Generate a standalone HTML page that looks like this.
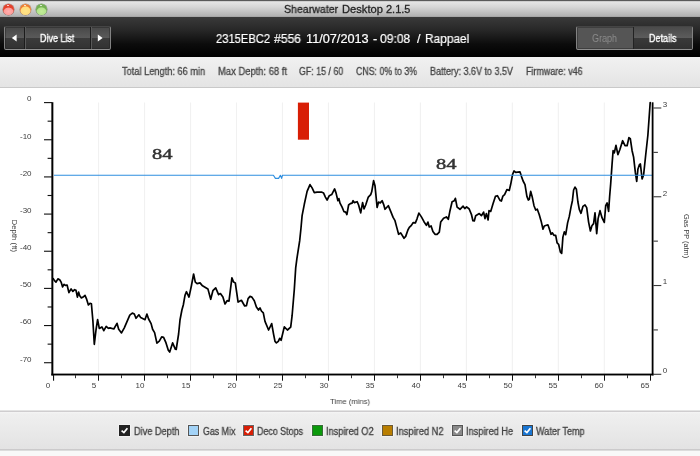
<!DOCTYPE html>
<html><head><meta charset="utf-8"><title>Shearwater Desktop 2.1.5</title>
<style>
html,body{margin:0;padding:0;}
body{width:700px;height:456px;overflow:hidden;position:relative;background:#fff;font-family:"Liberation Sans",sans-serif;}
.t{position:absolute;white-space:nowrap;line-height:1;display:inline-block;transform-origin:0 50%;will-change:transform;}
#titlebar{position:absolute;left:0;top:0;width:700px;height:17px;background:linear-gradient(#5a5a5a 0,#5a5a5a 1px,#e6e6e6 1.6px,#d6d6d6 7px,#b0b0b0 16.4px,#7a7a7a 17px);}
.tl{position:absolute;top:3.8px;width:11px;height:11px;border-radius:50%;box-sizing:border-box;}
.tl i{position:absolute;left:4.6px;top:1.1px;width:1.8px;height:1.6px;border-radius:50%;background:rgba(255,255,255,.85);}
#toolbar{position:absolute;left:0;top:17px;width:700px;height:39.6px;background:linear-gradient(#3a3a3a 0,#272727 33%,#0c0c0c 68%,#000 100%);}
#info{position:absolute;left:0;top:56.6px;width:700px;height:30px;background:linear-gradient(#f1f1f1,#e4e4e4);border-bottom:1.5px solid #c9c9c9;}
#legend{position:absolute;left:0;top:410px;width:700px;height:41px;background:linear-gradient(#e4e4e4 0,#e4e4e4 1px,#cfcdcf 1px,#cfcdcf 2px,#f5f5f5 2px,#efefef 4px,#e3e3e3 39px,#cbcacb 39px,#cbcacb 40px,#dcdcdc 40px,#dcdcdc 41px);}
#bottom{position:absolute;left:0;top:451px;width:700px;height:5px;background:#f8f8f8;}
.btn{position:absolute;box-sizing:border-box;border:1px solid #828282;border-top-color:#454545;border-bottom-color:#8e8e8e;border-radius:2px;box-shadow:inset 0 0 0 1px rgba(30,30,30,.4);}
.cb{position:absolute;top:425.2px;width:10.6px;height:10.6px;box-sizing:border-box;border:1px solid #5a5a5a;box-shadow:0 0 0 0.6px rgba(250,250,250,.9);}
svg{position:absolute;left:0;top:0;will-change:transform;}
</style></head><body>
<div id="titlebar"></div>
<div class="tl" style="left:2.9px;background:radial-gradient(ellipse 5.3px 4.3px at 50% 68%,#ffb0b0 0,#ff9c98 80%,rgba(255,150,140,0) 100%),radial-gradient(circle at 50% 50%,#e8452f 0,#e2422c 70%,#c0392a 100%);box-shadow:0 0 0 0.5px rgba(120,40,30,.55);"><i></i></div>
<div class="tl" style="left:19.7px;background:radial-gradient(ellipse 5.4px 5px at 50% 63%,#ffe488 0,#ffdc7c 82%,rgba(255,220,120,0) 100%),radial-gradient(circle at 50% 50%,#f08a38 0,#ec7a30 70%,#c8742a 100%);box-shadow:0 0 0 0.5px rgba(130,80,30,.55);"><i></i></div>
<div class="tl" style="left:35.9px;background:radial-gradient(ellipse 5.3px 4.5px at 50% 68%,#c2ec98 0,#b4e48c 80%,rgba(180,228,140,0) 100%),radial-gradient(circle at 50% 50%,#7cb85a 0,#72ae50 70%,#5a8e40 100%);box-shadow:0 0 0 0.5px rgba(50,90,40,.55);"><i></i></div>
<div id="toolbar"></div>
<div class="btn" style="left:4px;top:26px;width:107px;height:24px;background:linear-gradient(#484848 0,#5a5a5a 50%,#3b3b3b 50%,#323232 100%);"></div>
<div style="position:absolute;left:24px;top:27px;width:1px;height:22px;background:#1c1c1c;border-right:1px solid #595959;"></div>
<div style="position:absolute;left:90px;top:27px;width:1px;height:22px;background:#1c1c1c;border-right:1px solid #595959;"></div>
<div class="btn" style="left:576px;top:26px;width:117px;height:24px;background:#555555;"></div>
<div style="position:absolute;left:633px;top:27px;width:59px;height:22px;background:linear-gradient(#4a4a4a 0,#5c5c5c 50%,#3a3a3a 50%,#303030 100%);border-left:1px solid #222;box-sizing:border-box;"></div>
<div id="info"></div>
<div id="legend"></div>
<div id="bottom"></div>

<svg width="700" height="456" viewBox="0 0 700 456">
<path d="M11.8,38 L16.6,34.6 L16.6,41.4 Z" fill="#fff"/>
<path d="M102.6,38 L97.8,34.6 L97.8,41.4 Z" fill="#fff"/>
<rect x="98.03" y="102.5" width="1.1" height="271.5" fill="#f1f1f1"/>
<rect x="144.00" y="102.5" width="1.1" height="271.5" fill="#f1f1f1"/>
<rect x="189.97" y="102.5" width="1.1" height="271.5" fill="#f1f1f1"/>
<rect x="235.95" y="102.5" width="1.1" height="271.5" fill="#f1f1f1"/>
<rect x="281.93" y="102.5" width="1.1" height="271.5" fill="#f1f1f1"/>
<rect x="327.90" y="102.5" width="1.1" height="271.5" fill="#f1f1f1"/>
<rect x="373.88" y="102.5" width="1.1" height="271.5" fill="#f1f1f1"/>
<rect x="419.85" y="102.5" width="1.1" height="271.5" fill="#f1f1f1"/>
<rect x="465.83" y="102.5" width="1.1" height="271.5" fill="#f1f1f1"/>
<rect x="511.80" y="102.5" width="1.1" height="271.5" fill="#f1f1f1"/>
<rect x="557.78" y="102.5" width="1.1" height="271.5" fill="#f1f1f1"/>
<rect x="603.75" y="102.5" width="1.1" height="271.5" fill="#f1f1f1"/>
<rect x="297.9" y="102.6" width="11.1" height="37.1" fill="#d81e05"/>
<path d="M53.1,278.6 L54.3,280.3 L56.0,282.1 L57.9,278.9 L59.7,279.7 L61.1,282.1 L62.6,286.9 L64.0,284.3 L65.4,285.4 L67.1,285.0 L68.9,292.6 L71.1,288.9 L72.9,291.4 L74.6,289.7 L76.0,290.3 L77.4,297.1 L78.6,292.1 L79.6,295.4 L81.4,297.9 L83.1,297.1 L85.0,295.4 L86.4,298.6 L88.4,305.0 L90.0,303.3 L91.4,303.8 L92.9,321.0 L94.3,344.3 L96.0,330.0 L97.6,319.7 L99.3,328.4 L101.9,326.9 L103.8,330.7 L106.2,326.4 L108.4,328.3 L110.0,327.9 L113.8,329.0 L117.0,323.3 L118.7,329.3 L121.5,332.9 L124.3,327.8 L127.1,321.4 L129.8,315.1 L132.3,313.1 L134.3,314.0 L136.0,318.3 L138.9,314.8 L140.7,317.6 L145.0,319.7 L146.9,314.1 L148.6,319.0 L151.1,323.6 L152.6,329.3 L154.6,332.6 L156.9,343.1 L159.3,341.1 L161.7,336.9 L163.6,337.4 L165.7,342.1 L168.3,350.3 L169.7,352.1 L172.6,342.9 L175.4,349.3 L176.2,349.5 L178.6,334.0 L180.0,320.0 L181.9,310.0 L183.3,305.0 L185.0,295.4 L186.4,291.7 L189.0,297.1 L191.4,285.7 L193.6,274.0 L195.3,282.1 L197.1,283.6 L200.0,282.9 L202.1,285.4 L207.9,288.9 L210.7,299.3 L212.9,290.7 L215.7,287.9 L218.6,294.6 L220.4,293.6 L222.9,297.1 L225.0,304.0 L227.1,300.7 L229.0,301.1 L231.9,277.9 L233.6,282.1 L235.3,282.9 L238.1,302.1 L241.4,300.3 L244.7,306.0 L246.4,305.7 L248.1,298.6 L250.0,296.4 L251.9,297.1 L254.3,300.7 L256.4,307.1 L258.5,310.0 L260.0,307.9 L261.4,311.0 L263.3,312.9 L265.0,321.4 L268.6,330.0 L271.7,323.6 L273.6,334.3 L275.0,341.4 L276.4,342.9 L278.3,341.4 L279.7,338.3 L281.1,340.3 L284.3,326.9 L287.4,330.0 L290.7,327.1 L292.1,315.7 L294.3,289.5 L295.7,267.9 L296.9,258.6 L299.7,240.7 L301.0,228.0 L302.1,215.7 L304.3,204.3 L307.1,191.4 L310.0,184.6 L312.1,187.9 L314.3,192.6 L317.1,192.1 L321.4,192.1 L323.6,193.1 L325.4,197.1 L327.1,200.0 L329.3,195.7 L331.7,194.6 L334.6,188.9 L336.0,192.9 L337.9,200.7 L338.9,198.6 L340.0,203.1 L342.1,207.1 L344.0,211.7 L345.7,212.1 L346.9,214.6 L348.6,205.0 L350.3,203.6 L352.1,203.1 L353.1,200.7 L354.3,202.6 L357.1,201.7 L358.6,205.0 L360.7,212.9 L362.6,202.6 L364.0,208.9 L365.7,205.0 L368.3,197.1 L370.7,194.6 L371.7,191.8 L373.6,180.7 L375.0,185.7 L377.1,207.4 L378.6,202.1 L380.3,202.9 L382.1,200.7 L383.6,204.3 L385.0,209.3 L388.3,205.7 L390.7,211.4 L393.1,217.4 L395.0,220.7 L396.9,227.9 L398.6,234.3 L400.7,232.9 L404.0,238.3 L405.7,236.4 L407.9,230.0 L409.3,227.4 L411.4,225.4 L413.1,222.6 L415.4,222.9 L417.1,218.6 L418.9,213.1 L421.4,216.9 L424.0,221.7 L426.4,225.4 L427.9,222.1 L429.3,226.9 L431.1,226.0 L432.9,231.4 L435.0,234.3 L437.1,234.3 L439.3,232.1 L440.7,222.1 L443.6,218.3 L446.4,216.9 L448.3,219.3 L450.0,210.7 L452.1,201.7 L454.3,200.7 L455.4,198.3 L457.1,207.1 L460.0,209.3 L463.1,206.2 L464.8,208.6 L466.6,206.8 L469.2,209.0 L471.4,214.3 L472.9,220.7 L474.3,221.0 L475.7,215.7 L479.3,213.6 L481.4,215.7 L483.6,212.1 L485.0,218.6 L486.4,213.6 L488.1,220.0 L489.0,210.7 L490.7,211.4 L493.1,203.6 L495.4,196.4 L497.4,195.7 L500.0,200.4 L501.4,201.0 L502.9,196.1 L504.6,194.7 L506.9,189.6 L509.3,190.4 L510.7,184.3 L512.6,174.3 L514.0,171.0 L515.7,172.4 L520.0,171.9 L521.7,177.1 L523.1,181.0 L525.0,184.7 L526.9,196.4 L528.3,200.0 L529.3,199.3 L530.7,191.4 L532.1,196.4 L534.0,205.7 L535.7,210.0 L537.3,209.2 L539.2,214.5 L541.2,221.4 L543.0,229.2 L544.3,226.0 L547.9,224.8 L549.3,228.7 L551.0,234.3 L552.4,232.9 L553.9,235.3 L555.7,235.3 L557.1,242.9 L558.6,244.3 L560.4,252.1 L561.7,253.3 L562.9,237.1 L564.3,231.9 L565.7,234.7 L567.6,222.9 L569.3,216.4 L571.0,207.1 L572.4,200.7 L573.6,190.0 L575.0,187.1 L576.4,189.3 L577.9,202.0 L579.3,209.3 L581.0,213.3 L582.9,206.4 L585.0,205.0 L586.7,207.6 L588.6,222.1 L590.4,231.0 L591.9,225.7 L593.6,223.6 L595.0,212.9 L596.7,233.6 L598.1,218.6 L600.0,210.7 L602.1,217.9 L604.3,222.4 L605.7,205.7 L607.1,202.9 L608.6,211.4 L609.6,197.0 L610.7,183.6 L612.1,163.6 L613.1,150.7 L614.3,152.9 L616.0,145.3 L617.9,154.7 L620.0,149.3 L622.6,140.7 L625.0,145.7 L627.1,145.7 L628.9,137.6 L630.3,138.6 L632.1,150.7 L633.6,157.1 L635.4,172.9 L636.7,181.4 L637.9,169.3 L639.3,165.0 L640.4,164.0 L642.1,179.0 L643.6,175.0 L645.7,155.0 L647.9,135.0 L650.2,102.5" fill="none" stroke="#000" stroke-width="1.7" stroke-linejoin="round" stroke-linecap="round"/>
<path d="M54,175.25 L273.4,175.25 L275.4,178.4 L278.6,178.4 L280.4,175.25 L281.6,178.4 L282.5,175.25 L652,175.25" fill="none" stroke="#2f8fe0" stroke-width="1.15" stroke-linejoin="round"/>
<rect x="51.35" y="102.2" width="2" height="273.2" fill="#000"/>
<rect x="51.35" y="373.6" width="602.3" height="1.85" fill="#000"/>
<rect x="651.7" y="102.3" width="1.8" height="273" fill="#000"/>
<rect x="44" y="102.05" width="8" height="1.1" fill="#111"/>
<rect x="47.6" y="120.63" width="4.4" height="1.1" fill="#111"/>
<rect x="44" y="139.21" width="8" height="1.1" fill="#111"/>
<rect x="47.6" y="157.79" width="4.4" height="1.1" fill="#111"/>
<rect x="44" y="176.37" width="8" height="1.1" fill="#111"/>
<rect x="47.6" y="194.95" width="4.4" height="1.1" fill="#111"/>
<rect x="44" y="213.53" width="8" height="1.1" fill="#111"/>
<rect x="47.6" y="232.11" width="4.4" height="1.1" fill="#111"/>
<rect x="44" y="250.69" width="8" height="1.1" fill="#111"/>
<rect x="47.6" y="269.27" width="4.4" height="1.1" fill="#111"/>
<rect x="44" y="287.85" width="8" height="1.1" fill="#111"/>
<rect x="47.6" y="306.43" width="4.4" height="1.1" fill="#111"/>
<rect x="44" y="325.01" width="8" height="1.1" fill="#111"/>
<rect x="47.6" y="343.59" width="4.4" height="1.1" fill="#111"/>
<rect x="44" y="362.17" width="8" height="1.1" fill="#111"/>
<rect x="53.0" y="375" width="1.1" height="5.7" fill="#111"/>
<rect x="75" y="375" width="1" height="3.2" fill="#333"/>
<rect x="98" y="375" width="1" height="5.7" fill="#111"/>
<rect x="121" y="375" width="1" height="3.2" fill="#333"/>
<rect x="144" y="375" width="1" height="5.7" fill="#111"/>
<rect x="167" y="375" width="1" height="3.2" fill="#333"/>
<rect x="190" y="375" width="1" height="5.7" fill="#111"/>
<rect x="213" y="375" width="1" height="3.2" fill="#333"/>
<rect x="236" y="375" width="1" height="5.7" fill="#111"/>
<rect x="259" y="375" width="1" height="3.2" fill="#333"/>
<rect x="282" y="375" width="1" height="5.7" fill="#111"/>
<rect x="305" y="375" width="1" height="3.2" fill="#333"/>
<rect x="328" y="375" width="1" height="5.7" fill="#111"/>
<rect x="351" y="375" width="1" height="3.2" fill="#333"/>
<rect x="374" y="375" width="1" height="5.7" fill="#111"/>
<rect x="397" y="375" width="1" height="3.2" fill="#333"/>
<rect x="420" y="375" width="1" height="5.7" fill="#111"/>
<rect x="443" y="375" width="1" height="3.2" fill="#333"/>
<rect x="466" y="375" width="1" height="5.7" fill="#111"/>
<rect x="489" y="375" width="1" height="3.2" fill="#333"/>
<rect x="512" y="375" width="1" height="5.7" fill="#111"/>
<rect x="535" y="375" width="1" height="3.2" fill="#333"/>
<rect x="558" y="375" width="1" height="5.7" fill="#111"/>
<rect x="581" y="375" width="1" height="3.2" fill="#333"/>
<rect x="604" y="375" width="1" height="5.7" fill="#111"/>
<rect x="627" y="375" width="1" height="3.2" fill="#333"/>
<rect x="650" y="375" width="1" height="5.7" fill="#111"/>
<rect x="653.3" y="373.75" width="8" height="1.1" fill="#3a3a3a"/>
<rect x="653.3" y="329.37" width="4.6" height="1.1" fill="#3a3a3a"/>
<rect x="653.3" y="284.98" width="8" height="1.1" fill="#3a3a3a"/>
<rect x="653.3" y="240.59" width="4.6" height="1.1" fill="#3a3a3a"/>
<rect x="653.3" y="196.21" width="8" height="1.1" fill="#3a3a3a"/>
<rect x="653.3" y="151.83" width="4.6" height="1.1" fill="#3a3a3a"/>
<rect x="653.3" y="107.44" width="8" height="1.1" fill="#3a3a3a"/>
<text transform="translate(11.5,219.6) rotate(90)" font-family="Liberation Sans, sans-serif" font-size="8" fill="#3c3c3c" textLength="32.5" lengthAdjust="spacingAndGlyphs">Depth (ft)</text>
<text transform="translate(684.2,214.1) rotate(90)" font-family="Liberation Sans, sans-serif" font-size="8" fill="#3c3c3c" textLength="44" lengthAdjust="spacingAndGlyphs">Gas PP (atm)</text>
<text x="152" y="159" font-family="Liberation Serif, serif" font-size="15.5" fill="#333" stroke="#333" stroke-width="0.45" textLength="20.5" lengthAdjust="spacingAndGlyphs">84</text>
<text x="436" y="169.3" font-family="Liberation Serif, serif" font-size="15.5" fill="#333" stroke="#333" stroke-width="0.45" textLength="20.5" lengthAdjust="spacingAndGlyphs">84</text>
</svg>
<div class="cb" style="left:119.4px;background:#222222;border-color:#222;"><svg width="8.6" height="8.6" viewBox="0 0 8.6 8.6" style="left:0;top:0"><path d="M1.6,4.6 L3.9,6.6 L7.4,2.2" fill="none" stroke="#fff" stroke-width="1.7"/></svg></div>
<div class="cb" style="left:188.2px;background:#a3d3f7;border-color:#555;"></div>
<div class="cb" style="left:243px;background:#d81e05;border-color:#666;"><svg width="8.6" height="8.6" viewBox="0 0 8.6 8.6" style="left:0;top:0"><path d="M1.6,4.6 L3.9,6.6 L7.4,2.2" fill="none" stroke="#fff" stroke-width="1.7"/></svg></div>
<div class="cb" style="left:312px;background:#0b9a0b;border-color:#3a6a3a;"></div>
<div class="cb" style="left:382px;background:#b97e00;border-color:#6a5a3a;"></div>
<div class="cb" style="left:452.4px;background:#8a8a8a;border-color:#555;"><svg width="8.6" height="8.6" viewBox="0 0 8.6 8.6" style="left:0;top:0"><path d="M1.6,4.6 L3.9,6.6 L7.4,2.2" fill="none" stroke="#fff" stroke-width="1.7"/></svg></div>
<div class="cb" style="left:522px;background:#1a76d2;border-color:#444;"><svg width="8.6" height="8.6" viewBox="0 0 8.6 8.6" style="left:0;top:0"><path d="M1.6,4.6 L3.9,6.6 L7.4,2.2" fill="none" stroke="#fff" stroke-width="1.7"/></svg></div>
<span class="t" id="t0" style="font-size:11px;color:#242424;font-weight:normal;top:3.80px;-webkit-text-stroke:0.3px #242424;left:284.3px;transform:scaleX(0.9633);">Shearwater</span>
<span class="t" id="t1" style="font-size:11px;color:#242424;font-weight:normal;top:3.80px;-webkit-text-stroke:0.3px #242424;left:341.8px;transform:scaleX(1.0134);">Desktop</span>
<span class="t" id="t2" style="font-size:11px;color:#242424;font-weight:normal;top:3.80px;-webkit-text-stroke:0.3px #242424;left:386.4px;transform:scaleX(0.9972);">2.1.5</span>
<span class="t" id="t3" style="font-size:12.5px;color:#ffffff;font-weight:normal;top:33.35px;-webkit-text-stroke:0.2px #fff;left:215.6px;transform:scaleX(0.8947);">2315EBC2</span>
<span class="t" id="t4" style="font-size:12.5px;color:#ffffff;font-weight:normal;top:33.35px;-webkit-text-stroke:0.2px #fff;left:274.1px;transform:scaleX(0.9708);">#556</span>
<span class="t" id="t5" style="font-size:12.5px;color:#ffffff;font-weight:normal;top:33.35px;-webkit-text-stroke:0.2px #fff;left:305.6px;transform:scaleX(1.0172);">11/07/2013</span>
<span class="t" id="t6" style="font-size:12.5px;color:#ffffff;font-weight:normal;top:33.35px;-webkit-text-stroke:0.2px #fff;left:373.2px;">-</span>
<span class="t" id="t7" style="font-size:12.5px;color:#ffffff;font-weight:normal;top:33.35px;-webkit-text-stroke:0.2px #fff;left:380.3px;transform:scaleX(0.9654);">09:08</span>
<span class="t" id="t8" style="font-size:12.5px;color:#ffffff;font-weight:normal;top:33.35px;-webkit-text-stroke:0.2px #fff;left:416.8px;">/</span>
<span class="t" id="t9" style="font-size:12.5px;color:#ffffff;font-weight:normal;top:33.35px;-webkit-text-stroke:0.2px #fff;left:425.2px;transform:scaleX(0.9511);">Rappael</span>
<span class="t" id="t10" style="font-size:10.5px;color:#ffffff;font-weight:normal;top:32.55px;-webkit-text-stroke:0.4px #fff;left:40px;transform:scaleX(0.8543);">Dive List</span>
<span class="t" id="t11" style="font-size:10.5px;color:#8c8c8c;font-weight:normal;top:32.55px;left:592.3px;transform:scaleX(0.8565);">Graph</span>
<span class="t" id="t12" style="font-size:10.5px;color:#ffffff;font-weight:normal;top:32.55px;-webkit-text-stroke:0.35px #fff;left:649px;transform:scaleX(0.8596);">Details</span>
<span class="t" id="t13" style="font-size:10px;color:#454545;font-weight:normal;top:67.30px;-webkit-text-stroke:0.3px #454545;left:122.4px;transform:scaleX(0.9238);">Total Length: 66 min</span>
<span class="t" id="t14" style="font-size:10px;color:#454545;font-weight:normal;top:67.30px;-webkit-text-stroke:0.3px #454545;left:218px;transform:scaleX(0.9404);">Max Depth: 68 ft</span>
<span class="t" id="t15" style="font-size:10px;color:#454545;font-weight:normal;top:67.30px;-webkit-text-stroke:0.3px #454545;left:299.4px;transform:scaleX(0.8834);">GF: 15 / 60</span>
<span class="t" id="t16" style="font-size:10px;color:#454545;font-weight:normal;top:67.30px;-webkit-text-stroke:0.3px #454545;left:356.4px;transform:scaleX(0.8779);">CNS: 0% to 3%</span>
<span class="t" id="t17" style="font-size:10px;color:#454545;font-weight:normal;top:67.30px;-webkit-text-stroke:0.3px #454545;left:430px;transform:scaleX(0.8994);">Battery: 3.6V to 3.5V</span>
<span class="t" id="t18" style="font-size:10px;color:#454545;font-weight:normal;top:67.30px;-webkit-text-stroke:0.3px #454545;left:526px;transform:scaleX(0.8933);">Firmware: v46</span>
<span class="t" id="t19" style="font-size:10px;color:#424242;font-weight:normal;top:426.60px;-webkit-text-stroke:0.3px #424242;left:134px;transform:scaleX(0.9178);">Dive Depth</span>
<span class="t" id="t20" style="font-size:10px;color:#424242;font-weight:normal;top:426.60px;-webkit-text-stroke:0.3px #424242;left:202.6px;transform:scaleX(0.8835);">Gas Mix</span>
<span class="t" id="t21" style="font-size:10px;color:#424242;font-weight:normal;top:426.60px;-webkit-text-stroke:0.3px #424242;left:257.4px;transform:scaleX(0.8897);">Deco Stops</span>
<span class="t" id="t22" style="font-size:10px;color:#424242;font-weight:normal;top:426.60px;-webkit-text-stroke:0.3px #424242;left:326px;transform:scaleX(0.9206);">Inspired O2</span>
<span class="t" id="t23" style="font-size:10px;color:#424242;font-weight:normal;top:426.60px;-webkit-text-stroke:0.3px #424242;left:396px;transform:scaleX(0.9308);">Inspired N2</span>
<span class="t" id="t24" style="font-size:10px;color:#424242;font-weight:normal;top:426.60px;-webkit-text-stroke:0.3px #424242;left:466.4px;transform:scaleX(0.9229);">Inspired He</span>
<span class="t" id="t25" style="font-size:10px;color:#424242;font-weight:normal;top:426.60px;-webkit-text-stroke:0.3px #424242;left:536.4px;transform:scaleX(0.9108);">Water Temp</span>
<span class="t" id="t26" style="font-size:8px;color:#3c3c3c;font-weight:normal;top:95.45px;right:668.80px;">0</span>
<span class="t" id="t27" style="font-size:8px;color:#3c3c3c;font-weight:normal;top:132.61px;right:668.80px;">-10</span>
<span class="t" id="t28" style="font-size:8px;color:#3c3c3c;font-weight:normal;top:169.77px;right:668.80px;">-20</span>
<span class="t" id="t29" style="font-size:8px;color:#3c3c3c;font-weight:normal;top:206.93px;right:668.80px;">-30</span>
<span class="t" id="t30" style="font-size:8px;color:#3c3c3c;font-weight:normal;top:244.09px;right:668.80px;">-40</span>
<span class="t" id="t31" style="font-size:8px;color:#3c3c3c;font-weight:normal;top:281.25px;right:668.80px;">-50</span>
<span class="t" id="t32" style="font-size:8px;color:#3c3c3c;font-weight:normal;top:318.41px;right:668.80px;">-60</span>
<span class="t" id="t33" style="font-size:8px;color:#3c3c3c;font-weight:normal;top:355.57px;right:668.80px;">-70</span>
<span class="t" id="t34" style="font-size:8px;color:#3c3c3c;font-weight:normal;top:382.00px;left:48.40px;transform:translateX(-50%);">0</span>
<span class="t" id="t35" style="font-size:8px;color:#3c3c3c;font-weight:normal;top:382.00px;left:94.31px;transform:translateX(-50%);">5</span>
<span class="t" id="t36" style="font-size:8px;color:#3c3c3c;font-weight:normal;top:382.00px;left:140.23px;transform:translateX(-50%);">10</span>
<span class="t" id="t37" style="font-size:8px;color:#3c3c3c;font-weight:normal;top:382.00px;left:186.15px;transform:translateX(-50%);">15</span>
<span class="t" id="t38" style="font-size:8px;color:#3c3c3c;font-weight:normal;top:382.00px;left:232.06px;transform:translateX(-50%);">20</span>
<span class="t" id="t39" style="font-size:8px;color:#3c3c3c;font-weight:normal;top:382.00px;left:277.97px;transform:translateX(-50%);">25</span>
<span class="t" id="t40" style="font-size:8px;color:#3c3c3c;font-weight:normal;top:382.00px;left:323.89px;transform:translateX(-50%);">30</span>
<span class="t" id="t41" style="font-size:8px;color:#3c3c3c;font-weight:normal;top:382.00px;left:369.80px;transform:translateX(-50%);">35</span>
<span class="t" id="t42" style="font-size:8px;color:#3c3c3c;font-weight:normal;top:382.00px;left:415.72px;transform:translateX(-50%);">40</span>
<span class="t" id="t43" style="font-size:8px;color:#3c3c3c;font-weight:normal;top:382.00px;left:461.63px;transform:translateX(-50%);">45</span>
<span class="t" id="t44" style="font-size:8px;color:#3c3c3c;font-weight:normal;top:382.00px;left:507.55px;transform:translateX(-50%);">50</span>
<span class="t" id="t45" style="font-size:8px;color:#3c3c3c;font-weight:normal;top:382.00px;left:553.47px;transform:translateX(-50%);">55</span>
<span class="t" id="t46" style="font-size:8px;color:#3c3c3c;font-weight:normal;top:382.00px;left:599.38px;transform:translateX(-50%);">60</span>
<span class="t" id="t47" style="font-size:8px;color:#3c3c3c;font-weight:normal;top:382.00px;left:645.29px;transform:translateX(-50%);">65</span>
<span class="t" id="t48" style="font-size:8px;color:#3c3c3c;font-weight:normal;top:367.10px;left:665.30px;transform:translateX(-50%);">0</span>
<span class="t" id="t49" style="font-size:8px;color:#3c3c3c;font-weight:normal;top:278.33px;left:665.30px;transform:translateX(-50%);">1</span>
<span class="t" id="t50" style="font-size:8px;color:#3c3c3c;font-weight:normal;top:189.56px;left:665.30px;transform:translateX(-50%);">2</span>
<span class="t" id="t51" style="font-size:8px;color:#3c3c3c;font-weight:normal;top:100.79px;left:665.30px;transform:translateX(-50%);">3</span>
<span class="t" id="t52" style="font-size:8px;color:#3c3c3c;font-weight:normal;top:397.80px;left:330px;transform:scaleX(0.9542);">Time (mins)</span>
</body></html>
